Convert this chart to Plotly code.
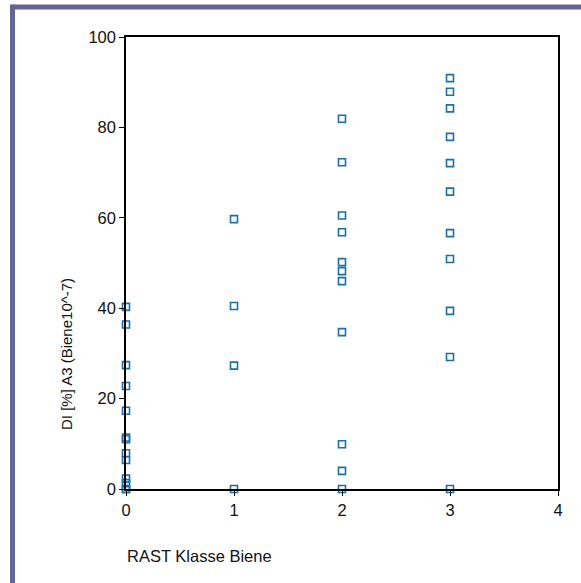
import plotly.graph_objects as go

# Data
rast_class = [0]*13 + [1]*4 + [2]*11 + [3]*11
di_values = [
    40.3, 36.4, 27.4, 22.8, 17.3, 11.4, 11.0, 7.9, 6.4, 2.3, 1.3, 0.0, 0.0,
    59.7, 40.5, 27.3, 0.0,
    81.9, 72.3, 60.5, 56.8, 50.2, 48.2, 46.0, 34.7, 9.9, 4.0, 0.0,
    90.9, 87.9, 84.2, 77.9, 72.1, 65.8, 56.6, 50.9, 39.4, 29.2, 0.0,
]
x_ticks = [0, 1, 2, 3, 4]
y_ticks = [0, 20, 40, 60, 80, 100]

W, H = 581, 583
ML, MR, MT, MB = 126, 23, 37, 94
PW, PH = W - ML - MR, H - MT - MB

def px(xp):
    return (xp - ML) / PW

def py(yp):
    return (H - MB - yp) / PH

FONT = "Arial, Liberation Sans, sans-serif"

fig = go.Figure()
fig.add_trace(go.Scatter(
    x=rast_class, y=di_values, mode="markers",
    marker=dict(symbol="square-open", size=7, color="#1B6FAA",
                line=dict(width=1.6, color="#1B6FAA")),
    cliponaxis=False, showlegend=False,
))

axis_common = dict(showgrid=False, zeroline=False, showline=True,
                   linecolor="black", linewidth=1.5, mirror=True,
                   ticks="outside", ticklen=5, tickwidth=1.2, tickcolor="black",
                   tickfont=dict(family=FONT, size=16.5, color="#111"))

fig.update_layout(
    width=W, height=H,
    margin=dict(l=ML, r=MR, t=MT, b=MB),
    paper_bgcolor="white", plot_bgcolor="white",
    font=dict(family=FONT, size=16, color="#111"),
    xaxis=dict(range=[0, 4], tickvals=x_ticks, **axis_common),
    yaxis=dict(range=[0, 100], tickvals=y_ticks, **axis_common),
    annotations=[
        dict(text="RAST Klasse Biene", xref="paper", yref="paper",
             x=px(125), y=py(556), xanchor="left", yanchor="middle",
             showarrow=False, font=dict(family=FONT, size=16.5, color="#111")),
        dict(text="DI [%] A3 (Biene10^-7)", xref="paper", yref="paper",
             x=px(66), y=py(354), xanchor="center", yanchor="middle",
             textangle=-90, showarrow=False,
             font=dict(family=FONT, size=15, color="#111")),
    ],
    shapes=[
        dict(type="line", xref="paper", yref="paper",
             x0=px(12.5), x1=px(W + 5), y0=py(7), y1=py(7),
             line=dict(color="#64649A", width=5)),
        dict(type="line", xref="paper", yref="paper",
             x0=px(12.5), x1=px(12.5), y0=py(4.5), y1=py(H + 5),
             line=dict(color="#64649A", width=5)),
    ],
)

fig.write_html("out.html")
